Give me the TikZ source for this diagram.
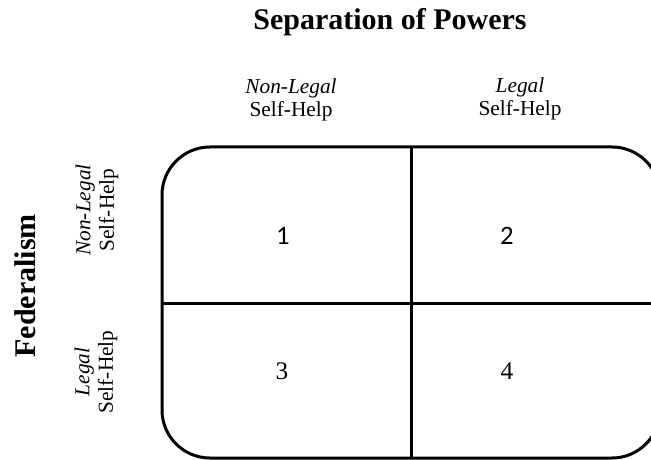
\documentclass[tikz,border=0pt]{standalone}
\usepackage{fontspec}
\setmainfont{Liberation Serif}
\newfontfamily\calibrifont{Carlito}
\begin{document}
\begin{tikzpicture}[x=0.75pt,y=-0.75pt,
  labelsty/.style={anchor=center,align=center,font=\fontsize{16}{17.5}\selectfont},
  headsty/.style={anchor=center,font=\fontsize{22.5}{26}\selectfont\bfseries},
  numsty/.style={anchor=center,font=\fontsize{19}{21}\selectfont},
  gridline/.style={line width=2.25pt}]

  \useasboundingbox (0,0) rectangle (651,460);

  \node[headsty] (title) at (390,22) {Separation of Powers};
  \node[labelsty] (colnonlegal) at (291,100) {\textit{Non-Legal}\\Self-Help};
  \node[labelsty] (collegal) at (520,99) {\textit{Legal}\\Self-Help};

  \node[headsty,rotate=90] (fed) at (25,286) {Federalism};
  \node[labelsty,rotate=90] (rownonlegal) at (97,210) {\textit{Non-Legal}\\Self-Help};
  \node[labelsty,rotate=90] (rowlegal) at (96,372) {\textit{Legal}\\Self-Help};

  \draw[gridline,rounded corners=36pt] (162,147) rectangle (660,458);
  \coordinate (vtop) at (411,147);
  \coordinate (vbot) at (411,458);
  \coordinate (hleft) at (162,303);
  \coordinate (hright) at (660,303);
  \draw[gridline] (vtop) -- (vbot);
  \draw[gridline] (hleft) -- (hright);

  \node[numsty,font=\calibrifont\fontsize{20}{22}\selectfont] (one) at (283,236) {1};
  \node[numsty,font=\calibrifont\fontsize{20}{22}\selectfont] (two) at (507,236) {2};
  \node[numsty] (three) at (282,371) {3};
  \node[numsty] (four) at (507,371) {4};

\end{tikzpicture}
\end{document}
